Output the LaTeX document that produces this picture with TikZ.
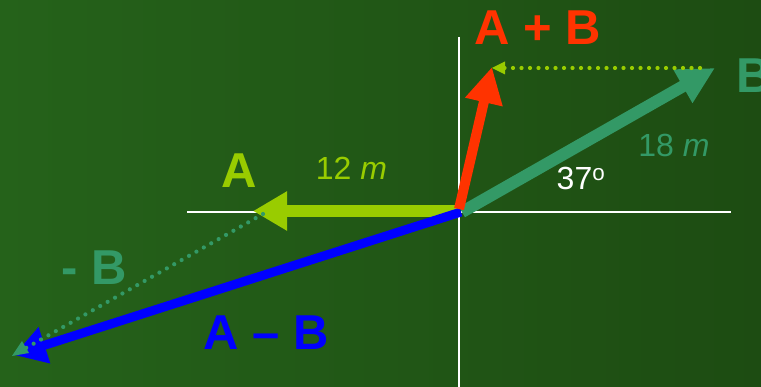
\documentclass[tikz,border=0pt]{standalone}
\usepackage{fontspec}
\setmainfont{Liberation Sans}
\usetikzlibrary{arrows.meta}
\definecolor{bgA}{HTML}{25621A}
\definecolor{bgB}{HTML}{1D4C12}
\definecolor{ygreen}{HTML}{99CC00}
\definecolor{teal}{HTML}{339966}
\definecolor{redv}{HTML}{FF3300}
\definecolor{bluev}{HTML}{0000FF}
\tikzset{
  big/.style={font=\bfseries\fontsize{49}{50}\selectfont, inner sep=0pt, anchor=base},
  small/.style={font=\fontsize{32}{34}\selectfont, inner sep=0pt, anchor=base},
  axis/.style={draw=white, line width=2pt},
  vec/.style={line cap=butt},
  dots/.style={line width=4.2pt, line cap=round, dash pattern=on 0pt off 8.5pt},
}
\begin{document}
\begin{tikzpicture}[x=1pt,y=-1pt]
\useasboundingbox (0,0) rectangle (761,387);
\shade[left color=bgA, right color=bgB] (0,0) rectangle (761,387);
% coordinates
\coordinate (O) at (459,211);
\coordinate (Atip) at (253,211);
\coordinate (Btip) at (715,68);
\coordinate (Stip) at (492,67);
\coordinate (Dtip) at (14,355);
\coordinate (Xl) at (187,212);
\coordinate (Xr) at (731,212);
\coordinate (Yt) at (459,37);
\coordinate (Yb) at (459,387);
\coordinate (Dstart) at (700,68);
\coordinate (Dend) at (492,68);
\coordinate (Nstart) at (263,214);
\coordinate (Nend) at (12,356);
% axes
\draw[axis] (Xl) -- (Xr);
\draw[axis] (Yt) -- (Yb);
% vectors
\draw[vec, draw=ygreen, line width=12pt, -{Triangle[length=34pt,width=37pt]}] (O) -- (Atip);
\draw[vec, draw=teal, line width=12pt, -{Triangle[length=37pt,width=36pt]}] (462,212) -- (Btip);
\draw[vec, draw=bluev, line width=9pt, -{Triangle[length=32pt,width=36pt]}] (461,212) -- (Dtip);
\draw[vec, draw=redv, line width=10pt, -{Triangle[length=36pt,width=36pt]}] (459,209) -- (Stip);
% dotted helpers
\draw[dots, draw=ygreen] (Dstart) -- ([xshift=10pt]Dend);
\fill[ygreen] (Dend) -- ++(13,-6.5) -- ++(0,13) -- cycle;
\draw[dots, draw=teal] (Nstart) -- (26,348);
\fill[teal] (Nend) -- (22,341) -- (29,353) -- cycle;
% labels
\node[big, text=redv] (lab) at (538,45) {A + B};
\node[big, text=teal, anchor=base west] (labB) at (736,93) {B};
\node[small, text=teal] (l18) at (674,157) {18 \textit{m}};
\node[small, text=white] (l37) at (581,190) {37\textsuperscript{o}};
\node[big, text=ygreen] (labA) at (239.5,188) {A};
\node[small, text=ygreen] (l12) at (351.5,180) {12 \textit{m}};
\node[big, text=teal] (labN) at (94,285) {- B};
\node[big, text=bluev] (labD) at (266,350) {A – B};
\end{tikzpicture}
\end{document}
